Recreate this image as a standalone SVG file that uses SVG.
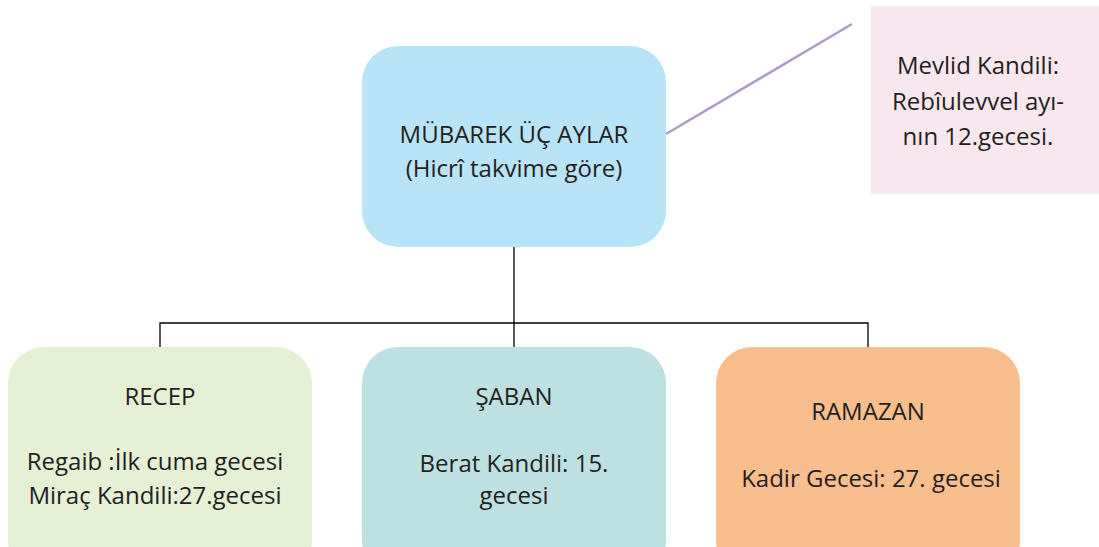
<svg xmlns="http://www.w3.org/2000/svg" width="1099" height="547" viewBox="0 0 1099 547">
<style>
text{font-family:"Open Sans","Noto Sans",sans-serif;font-size:24px;fill:#231f20;text-anchor:middle}
.c{fill:none;stroke:#000;stroke-width:1.3}
</style>
<rect width="1099" height="547" fill="#fff"/>
<g id="connectors">
<path class="c" d="M514 247V347M160 347V323H868V347"/>
<line x1="666" y1="134" x2="852" y2="24" stroke="#b09bc8" stroke-width="2.5"/>
</g>
<g id="top">
<rect x="362" y="46" width="304" height="201" rx="36" fill="#b9e4f8"/>
<text x="514" y="143">MÜBAREK ÜÇ AYLAR</text>
<text x="514" y="177">(Hicrî takvime göre)</text>
</g>
<g id="mevlid">
<rect x="871" y="6" width="228" height="188" fill="#f8e7ee"/>
<text x="978" y="74">Mevlid Kandili:</text>
<text x="978" y="110">Rebîulevvel ayı-</text>
<text x="978" y="145">nın 12.gecesi.</text>
</g>
<g id="recep">
<rect x="8" y="347" width="304" height="230" rx="36" fill="#e5f0d5"/>
<text x="160" y="405">RECEP</text>
<text x="155" y="470">Regaib :İlk cuma gecesi</text>
<text x="155" y="504">Miraç Kandili:27.gecesi</text>
</g>
<g id="saban">
<rect x="362" y="347" width="304" height="230" rx="36" fill="#bde0e3"/>
<text x="514" y="405">ŞABAN</text>
<text x="514" y="472">Berat Kandili: 15.</text>
<text x="514" y="504">gecesi</text>
</g>
<g id="ramazan">
<rect x="716" y="347" width="304" height="230" rx="36" fill="#f9be8e"/>
<text x="868" y="420">RAMAZAN</text>
<text x="871" y="487">Kadir Gecesi: 27. gecesi</text>
</g>
</svg>
